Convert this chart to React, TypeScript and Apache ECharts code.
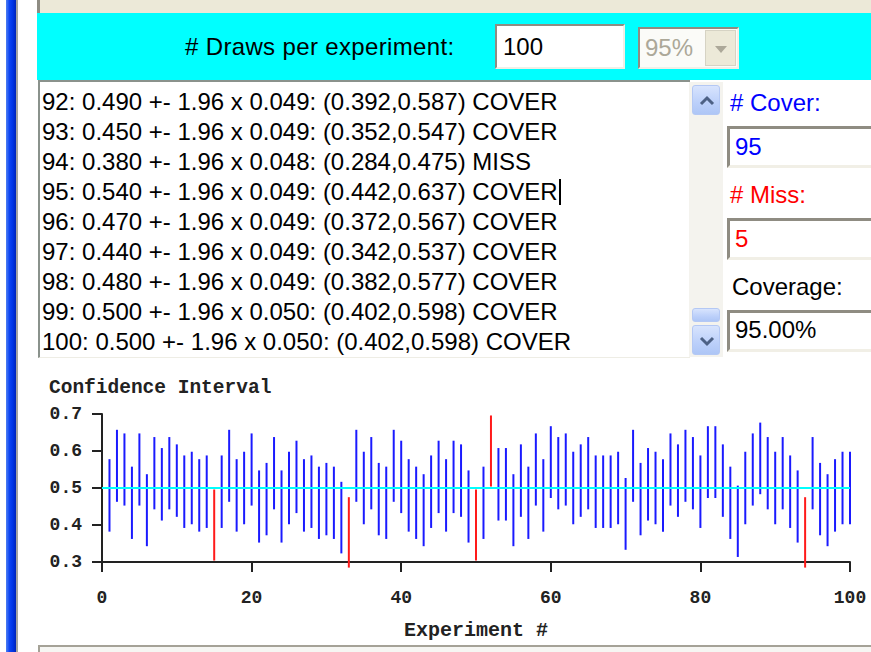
import React, { useEffect, useRef } from "react";
import * as echarts from "echarts";

// ---- data ----
// sample proportion of each experiment (experiment # = index + 1)
const pHat: number[] = [
  0.48, 0.56, 0.55, 0.46, 0.55, 0.44, 0.54, 0.51, 0.54, 0.52,
  0.49, 0.50, 0.48, 0.49, 0.40, 0.49, 0.56, 0.48, 0.50, 0.55,
  0.45, 0.47, 0.54, 0.45, 0.50, 0.53, 0.48, 0.49, 0.46, 0.47,
  0.46, 0.42, 0.38, 0.56, 0.50, 0.54, 0.47, 0.46, 0.56, 0.53,
  0.48, 0.46, 0.44, 0.49, 0.53, 0.48, 0.53, 0.52, 0.45, 0.40,
  0.46, 0.60, 0.51, 0.51, 0.44, 0.52, 0.46, 0.55, 0.48, 0.57,
  0.54, 0.55, 0.50, 0.52, 0.54, 0.49, 0.49, 0.49, 0.50, 0.43,
  0.56, 0.47, 0.51, 0.50, 0.48, 0.55, 0.52, 0.56, 0.54, 0.49,
  0.57, 0.57, 0.52, 0.46, 0.41, 0.50, 0.55, 0.58, 0.54, 0.50,
  0.54, 0.49, 0.45, 0.38, 0.54, 0.47, 0.44, 0.48, 0.50, 0.50,
];
const drawsPerExperiment = 100;
const zValue = 1.96;
const trueP = 0.5;
const confidenceLabel = "95%";
const visibleLines = 9;
const xTicks = [0, 20, 40, 60, 80, 100];
const yTicks = [0.3, 0.4, 0.5, 0.6, 0.7];

const BLUE = "#1a1aff";
const RED = "#ff1a1a";

const trunc3 = (v: number) => (Math.floor(v * 1000 + 1e-6) / 1000).toFixed(3);

const intervals = pHat.map((p, i) => {
  const se = Math.sqrt((p * (1 - p)) / drawsPerExperiment);
  const lo = p - zValue * se;
  const hi = p + zValue * se;
  const cover = lo <= trueP && hi >= trueP;
  return { n: i + 1, p, se, lo, hi, cover };
});
const coverCount = intervals.filter((d) => d.cover).length;
const missCount = intervals.length - coverCount;
const coverage = ((coverCount / intervals.length) * 100).toFixed(2) + "%";
const textLines = intervals.slice(-visibleLines).map(
  (d) =>
    `${d.n}: ${d.p.toFixed(3)} +- ${zValue.toFixed(2)} x ${trunc3(d.se)}: (${trunc3(d.lo)},${trunc3(d.hi)}) ${d.cover ? "COVER" : "MISS"}`
);

const abs = (l: number, t: number, w: number, h: number, extra: React.CSSProperties = {}): React.CSSProperties => ({
  position: "absolute",
  left: l,
  top: t,
  width: w,
  height: h,
  boxSizing: "border-box",
  ...extra,
});

const label = (l: number, cy: number, color = "#000", size = 24): React.CSSProperties => ({
  position: "absolute",
  left: l,
  top: cy - 15,
  height: 30,
  lineHeight: "30px",
  fontSize: size,
  color,
  whiteSpace: "nowrap",
});

const insetBorder: React.CSSProperties = {
  borderStyle: "solid",
  borderWidth: 2,
  borderColor: "#8f8c82 #f1efe6 #f1efe6 #8f8c82",
  background: "#ffffff",
};

const xpButton: React.CSSProperties = {
  borderRadius: 3,
  border: "1px solid #b4c8f4",
  background: "linear-gradient(to bottom, #d8e4fd 0%, #bcd0fa 60%, #aec6f6 100%)",
};

function Chevron({ up }: { up: boolean }) {
  return (
    <svg width="28" height="30" style={{ position: "absolute", left: 0, top: 0 }}>
      <polyline
        points={up ? "8,18 14,12 20,18" : "8,12 14,18 20,12"}
        fill="none"
        stroke="#4d6185"
        strokeWidth="3"
      />
    </svg>
  );
}

export default function App() {
  const ref = useRef<HTMLDivElement>(null);

  useEffect(() => {
    if (!ref.current) return;
    const chart = echarts.init(ref.current, null, { renderer: "svg" });
    const mono = "'Liberation Mono', 'Courier New', monospace";
    chart.setOption({
      animation: false,
      backgroundColor: "#ffffff",
      title: {
        text: "Confidence Interval",
        left: 11,
        top: 20,
        padding: 0,
        textStyle: { fontFamily: mono, fontWeight: "bold", fontSize: 19.5, color: "#222" },
      },
      grid: { left: 64, right: 21, top: 56, bottom: 81.7 },
      xAxis: {
        type: "value",
        min: xTicks[0],
        max: xTicks[xTicks.length - 1],
        interval: xTicks[1] - xTicks[0],
        name: "Experiment #",
        nameLocation: "middle",
        nameGap: 58,
        nameTextStyle: { fontFamily: mono, fontWeight: "bold", fontSize: 20, color: "#222" },
        axisLine: { show: true, onZero: false, lineStyle: { color: "#222", width: 2 } },
        axisTick: { show: true, length: 10, lineStyle: { color: "#222", width: 2 } },
        axisLabel: { margin: 27, fontFamily: mono, fontWeight: "bold", fontSize: 18, color: "#222" },
        splitLine: { show: false },
      },
      yAxis: {
        type: "value",
        min: yTicks[0],
        max: yTicks[yTicks.length - 1],
        interval: 0.1,
        axisLine: { show: true, onZero: false, lineStyle: { color: "#222", width: 2 } },
        axisTick: { show: true, length: 10, lineStyle: { color: "#222", width: 2 } },
        axisLabel: {
          margin: 20,
          fontFamily: mono,
          fontWeight: "bold",
          fontSize: 18,
          color: "#222",
          formatter: (v: number) => v.toFixed(1),
        },
        splitLine: { show: false },
      },
      series: [
        {
          type: "custom",
          clip: false,
          z: 2,
          data: intervals.map((d) => [d.n, d.lo, d.hi, d.cover ? 1 : 0]),
          encode: { x: 0, y: [1, 2] },
          renderItem: (_params: any, api: any) => {
            const x = api.value(0);
            const a = api.coord([x, api.value(1)]);
            const b = api.coord([x, api.value(2)]);
            return {
              type: "line",
              shape: { x1: a[0], y1: a[1], x2: b[0], y2: b[1] },
              style: { stroke: api.value(3) ? BLUE : RED, lineWidth: 2 },
            };
          },
        },
        {
          type: "line",
          z: 3,
          symbol: "none",
          data: [
            [xTicks[0], trueP],
            [xTicks[xTicks.length - 1], trueP],
          ],
          lineStyle: { color: "#00ffff", width: 2 },
        },
      ],
    });
    return () => chart.dispose();
  }, []);

  return (
    <div
      style={{
        position: "fixed",
        left: 0,
        top: 0,
        width: 871,
        height: 652,
        overflow: "hidden",
        background: "#ffffff",
        fontFamily: "'Liberation Sans', Arial, sans-serif",
      }}
    >
      {/* left window frame */}
      <div style={abs(6, 0, 10, 652, { background: "linear-gradient(to right, #4f7ff2 0%, #0c44f4 35%, #0033e4 70%, #0024b8 100%)" })} />
      <div style={abs(16, 0, 2, 652, { background: "#a3a3a3" })} />

      {/* top strip */}
      <div style={abs(37, 0, 834, 13, { background: "#ece9d8", borderLeft: "3px solid #8e8c83" })} />

      {/* cyan control bar */}
      <div style={abs(37, 13, 834, 67, { background: "#00ffff" })} />
      <div style={{ ...label(185, 47), letterSpacing: 0.35 }}># Draws per experiment:</div>
      <div style={abs(495, 24, 130, 45, insetBorder)} />
      <div style={label(503, 47)}>100</div>
      <div style={abs(638, 27, 101, 42, { ...insetBorder, background: "#fbfbf8" })} />
      <div style={label(645, 48, "#aca899")}>{confidenceLabel}</div>
      <div style={abs(705, 30, 31, 36, { background: "#ece9d8", border: "1px solid #d6d3c4" })}>
        <svg width="31" height="36" style={{ position: "absolute", left: 0, top: 0 }}>
          <polygon points="9,15 21,15 15,22" fill="#aca899" />
        </svg>
      </div>

      {/* text area with results */}
      <div
        style={abs(38, 80, 652, 278, {
          background: "#ffffff",
          borderStyle: "solid",
          borderWidth: "2px 0 1px 2px",
          borderColor: "#8a928c #eeede5 #eeede5 #8a928c",
        })}
      />
      {textLines.map((t, k) => (
        <div key={k} style={label(42, 102 + 30 * k)}>
          {t}
          {k === 3 ? (
            <span style={{ display: "inline-block", width: 2, height: 26, background: "#000", verticalAlign: "-5px", marginLeft: 1 }} />
          ) : null}
        </div>
      ))}

      {/* scroll bar */}
      <div style={abs(689, 82, 34, 275, { background: "#f4f3ee" })} />
      <div style={abs(692, 85, 28, 30, xpButton)}>
        <Chevron up={true} />
      </div>
      <div style={abs(692, 308, 28, 14, xpButton)} />
      <div style={abs(692, 325, 28, 30, xpButton)}>
        <Chevron up={false} />
      </div>

      {/* counters */}
      <div style={label(730, 103, "#0000ff")}># Cover:</div>
      <div style={abs(727, 126, 160, 42, { ...insetBorder, borderWidth: 3 })} />
      <div style={label(735, 147, "#0000ff")}>{String(coverCount)}</div>

      <div style={label(730, 195, "#ff0000")}># Miss:</div>
      <div style={abs(727, 218, 160, 42, { ...insetBorder, borderWidth: 3 })} />
      <div style={label(735, 239, "#ff0000")}>{String(missCount)}</div>

      <div style={label(732, 287)}>Coverage:</div>
      <div style={abs(727, 310, 160, 42, { ...insetBorder, borderWidth: 3 })} />
      <div style={label(735, 330)}>{coverage}</div>

      {/* chart */}
      <div ref={ref} style={abs(38, 358, 833, 287)} />

      {/* bottom panel */}
      <div
        style={abs(38, 645, 840, 20, {
          background: "#f6f6f3",
          borderStyle: "solid",
          borderWidth: "2px 0 0 2px",
          borderColor: "#a5a297",
        })}
      />
    </div>
  );
}
